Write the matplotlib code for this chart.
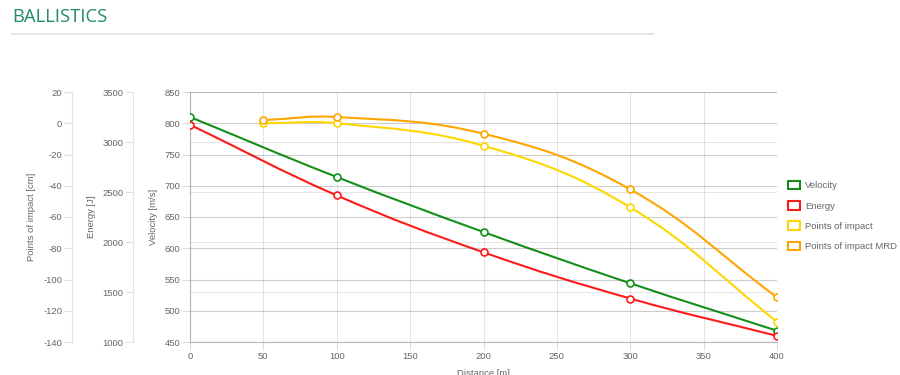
import numpy as np
import matplotlib
matplotlib.use("Agg")
import matplotlib.pyplot as plt
from matplotlib.path import Path
from matplotlib.patches import PathPatch, Patch
from matplotlib.lines import Line2D

plt.rcParams['font.family'] = ['Liberation Sans', 'DejaVu Sans']
plt.rcParams['axes.unicode_minus'] = False

# data
distance = [0, 100, 200, 300, 400]
velocity = [810, 714, 626, 544, 468]
energy = [3173, 2466, 1897, 1435, 1061]
poi_distance = [50, 100, 200, 300, 400]
poi = [0, 0, -14.4, -53.8, -127.0]
poi_mrd = [2.0, 4.0, -6.7, -42.3, -111.4]

series_names = ['Velocity', 'Energy', 'Points of impact', 'Points of impact MRD']
series_colors = ['#14901a', '#ff1a1a', '#ffd700', '#ffa500']

TXT = '#666666'
FS = 6.8

fig = plt.figure(figsize=(9, 3.75), dpi=100)
W, H = 900, 375
x0, x1, y0, y1 = 190, 777, 92, 342
rect = [x0 / W, 1 - y1 / H, (x1 - x0) / W, (y1 - y0) / H]

ax = fig.add_axes(rect)
ax_en = ax.twinx()
ax_imp = ax.twinx()

# chart.js style smooth line (tension 0.4, computed in pixel space)
def spline(axis, xs, ys, ylim, color):
    sx = (x1 - x0) / 400.0
    sy = (y1 - y0) / (ylim[1] - ylim[0])
    px = np.asarray(xs, float) * sx
    py = np.asarray(ys, float) * sy
    n = len(px)
    cprev, cnext = [], []
    for i in range(n):
        a = max(i - 1, 0)
        b = min(i + 1, n - 1)
        d01 = np.hypot(px[i] - px[a], py[i] - py[a])
        d12 = np.hypot(px[b] - px[i], py[b] - py[i])
        s01 = d01 / (d01 + d12)
        s12 = d12 / (d01 + d12)
        fa, fb = 0.4 * s01, 0.4 * s12
        cprev.append((px[i] - fa * (px[b] - px[a]), py[i] - fa * (py[b] - py[a])))
        cnext.append((px[i] + fb * (px[b] - px[a]), py[i] + fb * (py[b] - py[a])))
    verts = [(xs[0], ys[0])]
    codes = [Path.MOVETO]
    for i in range(n - 1):
        verts += [(cnext[i][0] / sx, cnext[i][1] / sy),
                  (cprev[i + 1][0] / sx, cprev[i + 1][1] / sy),
                  (xs[i + 1], ys[i + 1])]
        codes += [Path.CURVE4] * 3
    axis.add_patch(PathPatch(Path(verts, codes), fill=False, edgecolor=color, lw=1.5, zorder=4))
    axis.plot(xs, ys, 'o', ls='none', ms=5, mfc='white', mec=color, mew=1.2, zorder=5)

vel_lim = (450, 850)
en_lim = (1000, 3500)
imp_lim = (-140, 20)

spline(ax, distance, velocity, vel_lim, series_colors[0])
spline(ax_en, distance, energy, en_lim, series_colors[1])
spline(ax_imp, poi_distance, poi, imp_lim, series_colors[2])
spline(ax_imp, poi_distance, poi_mrd, imp_lim, series_colors[3])

ax.set_xlim(0, 400)
ax.set_ylim(*vel_lim)
ax_en.set_ylim(*en_lim)
ax_imp.set_ylim(*imp_lim)
ax.set_xticks(np.arange(0, 401, 50))
ax.set_yticks(np.arange(450, 851, 50))
ax_en.set_yticks(np.arange(1000, 3501, 500))
ax_imp.set_yticks(np.arange(-140, 21, 20))

for a in (ax, ax_en, ax_imp):
    a.set_axisbelow(True)
    a.patch.set_visible(False)
    for s in ('top', 'right'):
        a.spines[s].set_visible(False)

ax.spines['left'].set_color('#b5b5b5')
ax.spines['bottom'].set_color('#b5b5b5')
for a, pos in ((ax_en, (133 - x0) / (x1 - x0)), (ax_imp, (72 - x0) / (x1 - x0))):
    a.spines['bottom'].set_visible(False)
    a.spines['left'].set_visible(True)
    a.spines['left'].set_position(('axes', pos))
    a.spines['left'].set_color('#e3e3e3')
    a.yaxis.set_ticks_position('left')
    a.yaxis.set_label_position('left')

for a in (ax, ax_en, ax_imp):
    a.spines['left'].set_linewidth(0.8)
    a.tick_params(axis='y', length=5.5, width=0.75, color='#dddddd',
                  labelcolor=TXT, labelsize=FS, pad=1.5)
ax.tick_params(axis='x', length=5.5, width=0.75, color='#dddddd',
               labelcolor=TXT, labelsize=FS, pad=2)
ax.spines['bottom'].set_linewidth(0.8)

# grids (black at 10 % like chart.js)
ax.grid(True, color='black', alpha=0.1, lw=0.75)
ax_en.grid(True, axis='y', color='black', alpha=0.1, lw=0.75)
ax_imp.grid(True, axis='y', color='black', alpha=0.1, lw=0.75)

ax.set_xlabel('Distance [m]', fontsize=FS, color=TXT)
ax.xaxis.set_label_coords(0.5, -(373 - y1) / (y1 - y0))
ax.xaxis.label.set_va('center')
labels = ((ax, 'Velocity [m/s]', 154), (ax_en, 'Energy [J]', 92), (ax_imp, 'Points of impact [cm]', 32))
for a, txt, xc in labels:
    a.set_ylabel(txt, fontsize=FS, color=TXT)
    a.yaxis.set_label_coords((xc - x0) / (x1 - x0), 0.5)
    a.yaxis.label.set_va('center')

# legend
handles = [Patch(facecolor='white', edgecolor=c, linewidth=1.5) for c in series_colors]
fig.legend(handles, series_names, loc='center left', bbox_to_anchor=(788 / W, 1 - 216 / H),
           frameon=False, fontsize=FS, labelcolor=TXT, handlelength=1.25, handleheight=1.0,
           handletextpad=0.55, labelspacing=1.15, borderpad=0, borderaxespad=0)

# header
fig.text(12 / W, 1 - 17 / H, 'BALLISTICS', fontsize=13.3, color='#1f8a6e',
         family='Open Sans', va='center', ha='left')
fig.add_artist(Line2D([12 / W, 653 / W], [1 - 33.5 / H, 1 - 33.5 / H], color='#e6e6e6', lw=1.5))

fig.savefig('out.png', dpi=100)
